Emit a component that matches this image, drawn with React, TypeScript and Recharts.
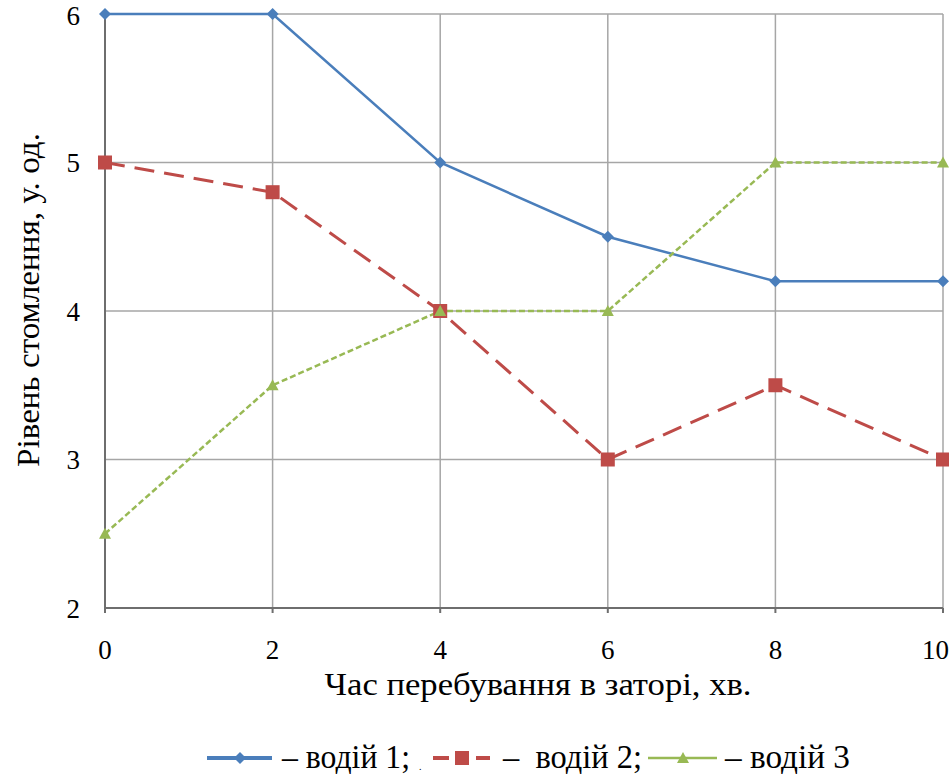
import * as React from 'react';
import { LineChart, Line, XAxis, YAxis, CartesianGrid, Legend, Label } from 'recharts';

// minutes spent in a traffic jam
const minutes = [0, 2, 4, 6, 8, 10];
const driver1 = [6, 6, 5, 4.5, 4.2, 4.2];
const driver2 = [5, 4.8, 4, 3, 3.5, 3];
const driver3 = [2.5, 3.5, 4, 4, 5, 5];
const yTicks = [2, 3, 4, 5, 6];
const seriesNames = ['водій 1', 'водій 2', 'водій 3'];
const xTitle = 'Час перебування в заторі, хв.';
const yTitle = 'Рівень стомлення, у. од.';

const data = minutes.map((m, i) => ({
  t: m,
  d1: driver1[i],
  d2: driver2[i],
  d3: driver3[i],
}));

const BLUE = '#4a7ebb';
const RED = '#be4b48';
const GREEN = '#98b954';
const FONT = "'Liberation Serif', 'Times New Roman', Tinos, 'DejaVu Serif', serif";
const textStyle = { fontFamily: FONT };

const Diamond = (props: any) => {
  const { cx, cy } = props;
  if (cx == null || cy == null) return null;
  const r = 6;
  return <path d={`M${cx},${cy - r}L${cx + r},${cy}L${cx},${cy + r}L${cx - r},${cy}Z`} fill={BLUE} />;
};

const Square = (props: any) => {
  const { cx, cy } = props;
  if (cx == null || cy == null) return null;
  return <rect x={cx - 7} y={cy - 7} width={14} height={14} fill={RED} />;
};

const Triangle = (props: any) => {
  const { cx, cy } = props;
  if (cx == null || cy == null) return null;
  return <path d={`M${cx},${cy - 6}L${cx + 6},${cy + 5}L${cx - 6},${cy + 5}Z`} fill={GREEN} />;
};

const LegendBox = () => (
  <svg width={949} height={56} style={{ display: 'block' }}>
    <g style={{ fontFamily: FONT, fontSize: 33 }} fill="#000">
      <line x1={207} y1={40} x2={272} y2={40} stroke={BLUE} strokeWidth={4} />
      <Diamond cx={240} cy={40} />
      <text x={282} y={50} textLength={128} lengthAdjust="spacingAndGlyphs">{`– ${seriesNames[0]};`}</text>
      <text x={419} y={52} style={{ fontSize: 10 }}>.</text>
      <line x1={433} y1={40} x2={449} y2={40} stroke={RED} strokeWidth={4} />
      <line x1={476} y1={40} x2={490} y2={40} stroke={RED} strokeWidth={4} />
      <Square cx={462} cy={40} />
      <text x={503} y={50} textLength={139} lengthAdjust="spacingAndGlyphs" xmlSpace="preserve">{`–  ${seriesNames[1]};`}</text>
      <line x1={648} y1={40} x2={717} y2={40} stroke={GREEN} strokeWidth={2.5} />
      <Triangle cx={683} cy={40} />
      <text x={725} y={50} textLength={125} lengthAdjust="spacingAndGlyphs">{`– ${seriesNames[2]}`}</text>
    </g>
  </svg>
);

const XTitle = (props: any) => {
  const vb = props.viewBox || {};
  return (
    <text x={vb.x + vb.width / 2 + 14} y={vb.y + 87} textAnchor="middle" fill="#000"
      style={{ ...textStyle, fontSize: 32 }} textLength={427} lengthAdjust="spacingAndGlyphs">
      {xTitle}
    </text>
  );
};

const YTitle = (props: any) => {
  const vb = props.viewBox || {};
  const cx = vb.x + 39;
  const cy = 300;
  return (
    <text x={cx} y={cy} transform={`rotate(-90 ${cx} ${cy})`} textAnchor="middle" fill="#000"
      style={{ ...textStyle, fontSize: 32 }} textLength={334} lengthAdjust="spacingAndGlyphs">
      {yTitle}
    </text>
  );
};

export default function App() {
  return (
    <div style={{ position: 'absolute', left: 0, top: 0, width: 949, height: 774, background: '#fff', fontFamily: FONT }}>
      <LineChart width={949} height={774} data={data} margin={{ top: 14, right: 6, left: 0, bottom: 0 }}>
        <CartesianGrid stroke="#a6a6a6" strokeWidth={1.5} />
        <XAxis
          dataKey="t"
          type="number"
          domain={[0, 10]}
          ticks={minutes}
          height={110}
          axisLine={{ stroke: '#6e6e6e', strokeWidth: 2 }}
          tickLine={{ stroke: '#6e6e6e', strokeWidth: 2 }}
          tickSize={5}
          tickMargin={27}
          tick={{ fill: '#000', fontSize: 27, style: textStyle }}
        >
          <Label content={<XTitle />} />
        </XAxis>
        <YAxis
          type="number"
          domain={[2, 6]}
          ticks={yTicks}
          width={105}
          axisLine={{ stroke: '#6e6e6e', strokeWidth: 2 }}
          tickLine={false}
          tickSize={0}
          tickMargin={25}
          tick={{ fill: '#000', fontSize: 27, style: textStyle }}
        >
          <Label content={<YTitle />} />
        </YAxis>
        <Legend verticalAlign="bottom" height={56} content={() => <LegendBox />} />
        <Line dataKey="d1" name={seriesNames[0]} stroke={BLUE} strokeWidth={2.5} dot={<Diamond />} activeDot={false} isAnimationActive={false} />
        <Line dataKey="d2" name={seriesNames[1]} stroke={RED} strokeWidth={3} strokeDasharray="20 10" dot={<Square />} activeDot={false} isAnimationActive={false} />
        <Line dataKey="d3" name={seriesNames[2]} stroke={GREEN} strokeWidth={2.5} strokeDasharray="6 3" dot={<Triangle />} activeDot={false} isAnimationActive={false} />
      </LineChart>
    </div>
  );
}
